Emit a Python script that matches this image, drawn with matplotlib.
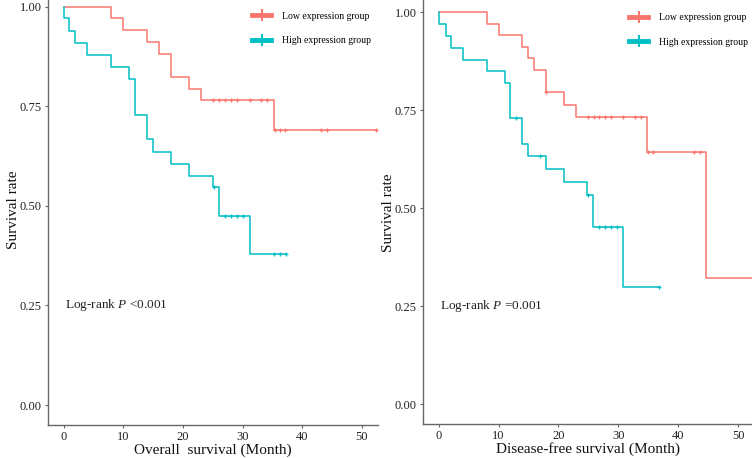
import matplotlib
matplotlib.use("Agg")
import matplotlib.pyplot as plt
from matplotlib.lines import Line2D

plt.rcParams['font.family'] = ['Liberation Serif', 'DejaVu Serif']
plt.rcParams['mathtext.fontset'] = 'custom'
plt.rcParams['mathtext.rm'] = 'Liberation Serif'
plt.rcParams['mathtext.it'] = 'Liberation Serif:italic'

# ---------------- data ----------------
groups = ["Low expression group", "High expression group"]
colors = ["#F8766D", "#00BFC4"]

# Overall survival
os_low_t = [0, 8, 10, 14, 16, 18, 21, 23, 35.2, 52.5]
os_low_s = [1.0, 0.971, 0.941, 0.912, 0.882, 0.824, 0.794, 0.765, 0.690, 0.690]
os_low_cens = [25.1, 26.1, 27.1, 28.1, 29.1, 31.2, 33.1, 34.1, 35.5, 36.2, 37.1, 43.2, 44.1, 52.4]

os_high_t = [0, 0.1, 1, 2, 4, 8, 11, 12, 14, 15, 18, 21, 25, 26.1, 31.2, 37.2]
os_high_s = [1.0, 0.970, 0.939, 0.909, 0.879, 0.848, 0.818, 0.728, 0.667, 0.636, 0.606, 0.576, 0.546, 0.474, 0.379, 0.379]
os_high_cens = [25.2, 27.1, 28.1, 29.1, 30.0, 35.2, 36.2, 37.2]

# Disease-free survival
dfs_low_t = [0, 8, 10, 14, 15, 16, 18, 21, 23, 34.8, 44.6, 53]
dfs_low_s = [1.0, 0.969, 0.941, 0.912, 0.882, 0.852, 0.796, 0.763, 0.732, 0.642, 0.321, 0.321]
dfs_low_cens = [18.0, 24.9, 25.9, 26.8, 27.8, 28.8, 30.8, 32.7, 33.7, 35.0, 35.7, 42.7, 43.7]

dfs_high_t = [0, 0.1, 1.2, 2.1, 4.1, 8, 11, 12, 14, 15, 18, 21, 24.8, 25.8, 30.7, 36.8]
dfs_high_s = [1.0, 0.969, 0.940, 0.909, 0.878, 0.850, 0.818, 0.729, 0.664, 0.634, 0.600, 0.566, 0.534, 0.452, 0.300, 0.300]
dfs_high_cens = [13.0, 17.0, 25.0, 26.8, 27.8, 28.8, 29.8, 36.8]

xticks = [0, 10, 20, 30, 40, 50]
yticks = [0.00, 0.25, 0.50, 0.75, 1.00]
ytick_labels = ["0.00", "0.25", "0.50", "0.75", "1.00"]


def surv_at(ts, ss, x):
    val = ss[0]
    for t, s in zip(ts, ss):
        if t <= x:
            val = s
    return val


fig = plt.figure(figsize=(7.52, 4.58), dpi=100)

panels = [
    dict(pos=[48/752, 33/458, 330/752, 438.4/458], xlim=(-2.6, 52.7),
         curves=[(os_low_t, os_low_s, os_low_cens), (os_high_t, os_high_s, os_high_cens)],
         xlabel="Overall  survival (Month)", text="Log-rank $\\it{P}$ <0.001",
         leg=(0.618, 0.943)),
    dict(pos=[423/752, 34/458, 329/752, 431.6/458], xlim=(-2.6, 52.3),
         curves=[(dfs_low_t, dfs_low_s, dfs_low_cens), (dfs_high_t, dfs_high_s, dfs_high_cens)],
         xlabel="Disease-free survival (Month)", text="Log-rank $\\it{P}$ =0.001",
         leg=(0.626, 0.952)),
]

for p in panels:
    ax = fig.add_axes(p["pos"])
    for (ts, ss, cens), col in zip(p["curves"], colors):
        ax.step(ts, ss, where="post", color=col, lw=1.1, clip_on=False)
        cy = [surv_at(ts, ss, c) for c in cens]
        ax.plot(cens, cy, linestyle="none", marker="+", color=col, ms=3.5, mew=0.9, clip_on=False)
    ax.set_xlim(*p["xlim"])
    ax.set_ylim(-0.05, 1.05)
    ax.set_xticks(xticks)
    ax.set_yticks(yticks)
    ax.set_yticklabels(ytick_labels)
    for s in ["top", "right"]:
        ax.spines[s].set_visible(False)
    for s in ["left", "bottom"]:
        ax.spines[s].set_color("#666666")
        ax.spines[s].set_linewidth(1.0)
    ax.tick_params(axis="both", colors="#666666", labelcolor="#222222", labelsize=9, length=2.5, width=0.8, pad=2)
    ax.set_xlabel(p["xlabel"], fontsize=11, color="#111111", labelpad=0)
    ax.set_ylabel("Survival rate", fontsize=11, color="#111111", labelpad=0)
    ax.yaxis.label.set_y(0.49)
    ax.text(0.25, 0.252, p["text"], fontsize=9.5, ha="left", va="center", color="#222222")
    handles = [Line2D([], [], color=c, lw=3.5, marker="+", ms=9, mew=1.5) for c in colors]
    ax.legend(handles, groups, loc="upper left", bbox_to_anchor=p["leg"], frameon=False,
              fontsize=7, handlelength=2.0, handletextpad=1.1, labelspacing=1.6,
              borderpad=0, borderaxespad=0)

fig.savefig("out.png", dpi=100)
